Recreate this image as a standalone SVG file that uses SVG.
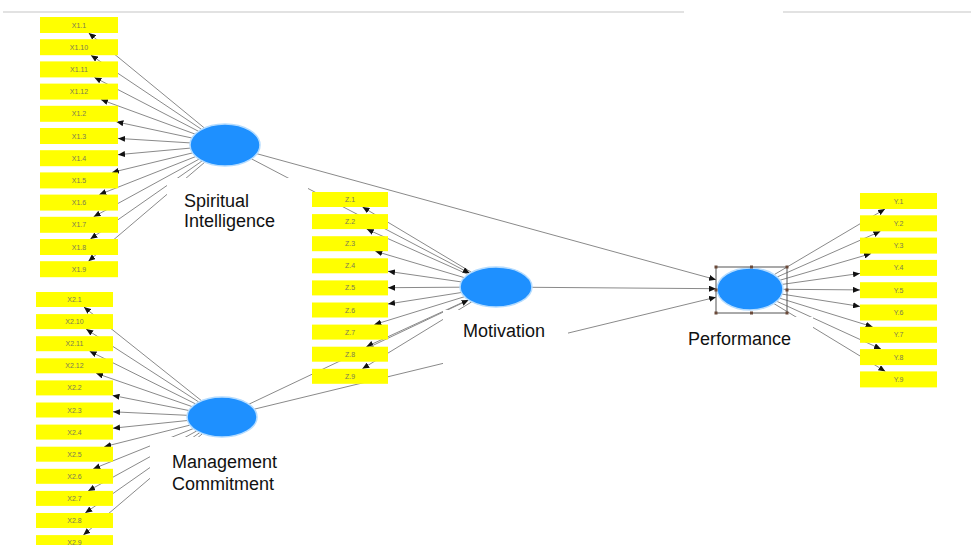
<svg xmlns="http://www.w3.org/2000/svg" width="971" height="545" viewBox="0 0 971 545">
<style>
.bg{fill:#ffffff}
.topline{stroke:#e2e2e2;stroke-width:2;fill:none}
.ln{stroke:#8a8a8a;stroke-width:1;fill:none;marker-end:url(#ah)}
.ind rect{fill:#ffff00}
.ind text{font-family:"Liberation Sans",Arial,sans-serif;font-size:7px;fill:#7a7a55;text-anchor:middle}
.lat ellipse{fill:#1e90ff;stroke:#b5dcff;stroke-width:1.5}
.lat .lbl{fill:#ffffff}
.lat text{font-family:"Liberation Sans",Arial,sans-serif;font-size:18px;fill:#111111}
.sel{fill:none;stroke:#555555;stroke-width:1}
.hd{fill:#6b4a3a}
</style>
<defs>
<marker id="ah" markerUnits="userSpaceOnUse" markerWidth="8" markerHeight="6" refX="7" refY="3" orient="auto">
<path d="M0,0 L7,3 L0,6 z" fill="#111111"/>
</marker>
</defs>
<rect class="bg" x="0" y="0" width="971" height="545"/>
<line class="topline" x1="3" y1="12" x2="684" y2="12"/>
<line class="topline" x1="783" y1="12" x2="971" y2="12"/>

<g id="connectors">
<line class="ln" x1="204.4" y1="128.0" x2="88.7" y2="33"/>
<line class="ln" x1="201.6" y1="129.4" x2="90.9" y2="55.2"/>
<line class="ln" x1="198.5" y1="131.3" x2="94.4" y2="77.4"/>
<line class="ln" x1="195.1" y1="134.1" x2="100.9" y2="99.6"/>
<line class="ln" x1="192.0" y1="138.0" x2="116.4" y2="121.8"/>
<line class="ln" x1="190.2" y1="142.9" x2="118" y2="138.4"/>
<line class="ln" x1="190.4" y1="148.1" x2="118" y2="154.7"/>
<line class="ln" x1="192.5" y1="152.9" x2="112" y2="172.4"/>
<line class="ln" x1="195.8" y1="156.5" x2="99.3" y2="194.6"/>
<line class="ln" x1="199.1" y1="159.1" x2="93.6" y2="216.8"/>
<line class="ln" x1="202.2" y1="160.9" x2="90.4" y2="239"/>
<line class="ln" x1="204.8" y1="162.2" x2="88.4" y2="261.2"/>

<line class="ln" x1="201.6" y1="400.8" x2="83.9" y2="307"/>
<line class="ln" x1="198.8" y1="402.0" x2="86.1" y2="329.1"/>
<line class="ln" x1="195.6" y1="403.9" x2="89.6" y2="351.2"/>
<line class="ln" x1="192.1" y1="406.6" x2="96.1" y2="373.3"/>
<line class="ln" x1="188.9" y1="410.5" x2="112.5" y2="395.4"/>
<line class="ln" x1="187.1" y1="415.3" x2="113" y2="411.8"/>
<line class="ln" x1="187.5" y1="420.5" x2="113" y2="428.2"/>
<line class="ln" x1="190.0" y1="425.1" x2="104.2" y2="446.7"/>
<line class="ln" x1="193.4" y1="428.5" x2="93.2" y2="468.8"/>
<line class="ln" x1="196.8" y1="430.9" x2="88.1" y2="490.9"/>
<line class="ln" x1="199.9" y1="432.5" x2="85.2" y2="513"/>
<line class="ln" x1="202.5" y1="433.6" x2="83.3" y2="535.1"/>

<line class="ln" x1="471.5" y1="272.3" x2="362.5" y2="207"/>
<line class="ln" x1="468.0" y1="274.4" x2="366.7" y2="229.1"/>
<line class="ln" x1="464.2" y1="277.6" x2="375.3" y2="251.2"/>
<line class="ln" x1="461.2" y1="281.9" x2="388" y2="271.3"/>
<line class="ln" x1="460.0" y1="287.2" x2="388" y2="287.7"/>
<line class="ln" x1="461.4" y1="292.5" x2="388" y2="304.0"/>
<line class="ln" x1="464.5" y1="296.7" x2="374.3" y2="324.6"/>
<line class="ln" x1="468.3" y1="299.8" x2="366.3" y2="346.7"/>
<line class="ln" x1="471.8" y1="301.8" x2="362.3" y2="368.8"/>

<line class="ln" x1="774.1" y1="274.7" x2="885" y2="209"/>
<line class="ln" x1="777.1" y1="277.0" x2="880.4" y2="231.3"/>
<line class="ln" x1="780.0" y1="280.2" x2="871.1" y2="253.6"/>
<line class="ln" x1="782.2" y1="284.4" x2="860" y2="273.4"/>
<line class="ln" x1="783.0" y1="289.3" x2="860" y2="289.9"/>
<line class="ln" x1="782.0" y1="294.1" x2="860" y2="306.4"/>
<line class="ln" x1="779.7" y1="298.2" x2="872.6" y2="326.8"/>
<line class="ln" x1="776.8" y1="301.3" x2="881.0" y2="349.1"/>
<line class="ln" x1="773.8" y1="303.5" x2="885.4" y2="371.4"/>

<line class="ln" x1="256.8" y1="153.7" x2="716" y2="279.7"/>
<line class="ln" x1="251.4" y1="158.8" x2="469.8" y2="273.3"/>
<line class="ln" x1="248.9" y1="404.2" x2="468.6" y2="300"/>
<line class="ln" x1="254.2" y1="409.2" x2="716" y2="297.2"/>
<line class="ln" x1="532" y1="287.3" x2="716" y2="288.7"/>
</g>

<g id="X1" class="ind">
<rect x="40" y="17" width="78" height="16"/><text x="79" y="27.5">X1.1</text>
<rect x="40" y="39.2" width="78" height="16"/><text x="79" y="49.7">X1.10</text>
<rect x="40" y="61.4" width="78" height="16"/><text x="79" y="71.9">X1.11</text>
<rect x="40" y="83.6" width="78" height="16"/><text x="79" y="94.1">X1.12</text>
<rect x="40" y="105.8" width="78" height="16"/><text x="79" y="116.3">X1.2</text>
<rect x="40" y="128" width="78" height="16"/><text x="79" y="138.5">X1.3</text>
<rect x="40" y="150.2" width="78" height="16"/><text x="79" y="160.7">X1.4</text>
<rect x="40" y="172.4" width="78" height="16"/><text x="79" y="182.9">X1.5</text>
<rect x="40" y="194.6" width="78" height="16"/><text x="79" y="205.1">X1.6</text>
<rect x="40" y="216.8" width="78" height="16"/><text x="79" y="227.3">X1.7</text>
<rect x="40" y="239" width="78" height="16"/><text x="79" y="249.5">X1.8</text>
<rect x="40" y="261.2" width="78" height="16"/><text x="79" y="271.7">X1.9</text>
</g>

<g id="X2" class="ind">
<rect x="36" y="292" width="77" height="15"/><text x="74.5" y="302">X2.1</text>
<rect x="36" y="314.1" width="77" height="15"/><text x="74.5" y="324.1">X2.10</text>
<rect x="36" y="336.2" width="77" height="15"/><text x="74.5" y="346.2">X2.11</text>
<rect x="36" y="358.3" width="77" height="15"/><text x="74.5" y="368.3">X2.12</text>
<rect x="36" y="380.4" width="77" height="15"/><text x="74.5" y="390.4">X2.2</text>
<rect x="36" y="402.5" width="77" height="15"/><text x="74.5" y="412.5">X2.3</text>
<rect x="36" y="424.6" width="77" height="15"/><text x="74.5" y="434.6">X2.4</text>
<rect x="36" y="446.7" width="77" height="15"/><text x="74.5" y="456.7">X2.5</text>
<rect x="36" y="468.8" width="77" height="15"/><text x="74.5" y="478.8">X2.6</text>
<rect x="36" y="490.9" width="77" height="15"/><text x="74.5" y="500.9">X2.7</text>
<rect x="36" y="513" width="77" height="15"/><text x="74.5" y="523">X2.8</text>
<rect x="36" y="535.1" width="77" height="15"/><text x="74.5" y="545.1">X2.9</text>
</g>

<g id="Z" class="ind">
<rect x="312" y="192" width="76" height="15"/><text x="350" y="202">Z.1</text>
<rect x="312" y="214.1" width="76" height="15"/><text x="350" y="224.1">Z.2</text>
<rect x="312" y="236.2" width="76" height="15"/><text x="350" y="246.2">Z.3</text>
<rect x="312" y="258.3" width="76" height="15"/><text x="350" y="268.3">Z.4</text>
<rect x="312" y="280.4" width="76" height="15"/><text x="350" y="290.4">Z.5</text>
<rect x="312" y="302.5" width="76" height="15"/><text x="350" y="312.5">Z.6</text>
<rect x="312" y="324.6" width="76" height="15"/><text x="350" y="334.6">Z.7</text>
<rect x="312" y="346.7" width="76" height="15"/><text x="350" y="356.7">Z.8</text>
<rect x="312" y="368.8" width="76" height="15"/><text x="350" y="378.8">Z.9</text>
</g>

<g id="Y" class="ind">
<rect x="860" y="193" width="77" height="16"/><text x="898.5" y="203.5">Y.1</text>
<rect x="860" y="215.3" width="77" height="16"/><text x="898.5" y="225.8">Y.2</text>
<rect x="860" y="237.6" width="77" height="16"/><text x="898.5" y="248.1">Y.3</text>
<rect x="860" y="259.9" width="77" height="16"/><text x="898.5" y="270.4">Y.4</text>
<rect x="860" y="282.2" width="77" height="16"/><text x="898.5" y="292.7">Y.5</text>
<rect x="860" y="304.5" width="77" height="16"/><text x="898.5" y="315">Y.6</text>
<rect x="860" y="326.8" width="77" height="16"/><text x="898.5" y="337.3">Y.7</text>
<rect x="860" y="349.1" width="77" height="16"/><text x="898.5" y="359.6">Y.8</text>
<rect x="860" y="371.4" width="77" height="16"/><text x="898.5" y="381.9">Y.9</text>
</g>

<g id="spiritual-intelligence" class="lat">
<rect class="lbl" x="167" y="178" width="141" height="62"/>
<ellipse cx="225" cy="145" rx="35" ry="21"/>
<text x="184" y="207">Spiritual</text>
<text x="184" y="227">Intelligence</text>
</g>

<g id="management-commitment" class="lat">
<rect class="lbl" x="150" y="437" width="150" height="108"/>
<ellipse cx="222" cy="417" rx="35" ry="20"/>
<text x="172" y="468">Management</text>
<text x="172" y="490">Commitment</text>
</g>

<g id="motivation" class="lat">
<rect class="lbl" x="443" y="310" width="125" height="90"/>
<ellipse cx="496" cy="287" rx="36" ry="20"/>
<text x="463" y="337">Motivation</text>
</g>

<g id="performance" class="lat">
<rect class="lbl" x="660" y="317" width="153" height="80"/>
<ellipse cx="750" cy="289" rx="33" ry="21"/>
<rect class="sel" x="716" y="267" width="71" height="46"/>
<rect class="hd" x="714.5" y="265.5" width="3" height="3"/>
<rect class="hd" x="750" y="265.5" width="3" height="3"/>
<rect class="hd" x="785.5" y="265.5" width="3" height="3"/>
<rect class="hd" x="714.5" y="288.5" width="3" height="3"/>
<rect class="hd" x="785.5" y="288.5" width="3" height="3"/>
<rect class="hd" x="714.5" y="311.5" width="3" height="3"/>
<rect class="hd" x="750" y="311.5" width="3" height="3"/>
<rect class="hd" x="785.5" y="311.5" width="3" height="3"/>
<text x="688" y="345">Performance</text>
</g>
</svg>
